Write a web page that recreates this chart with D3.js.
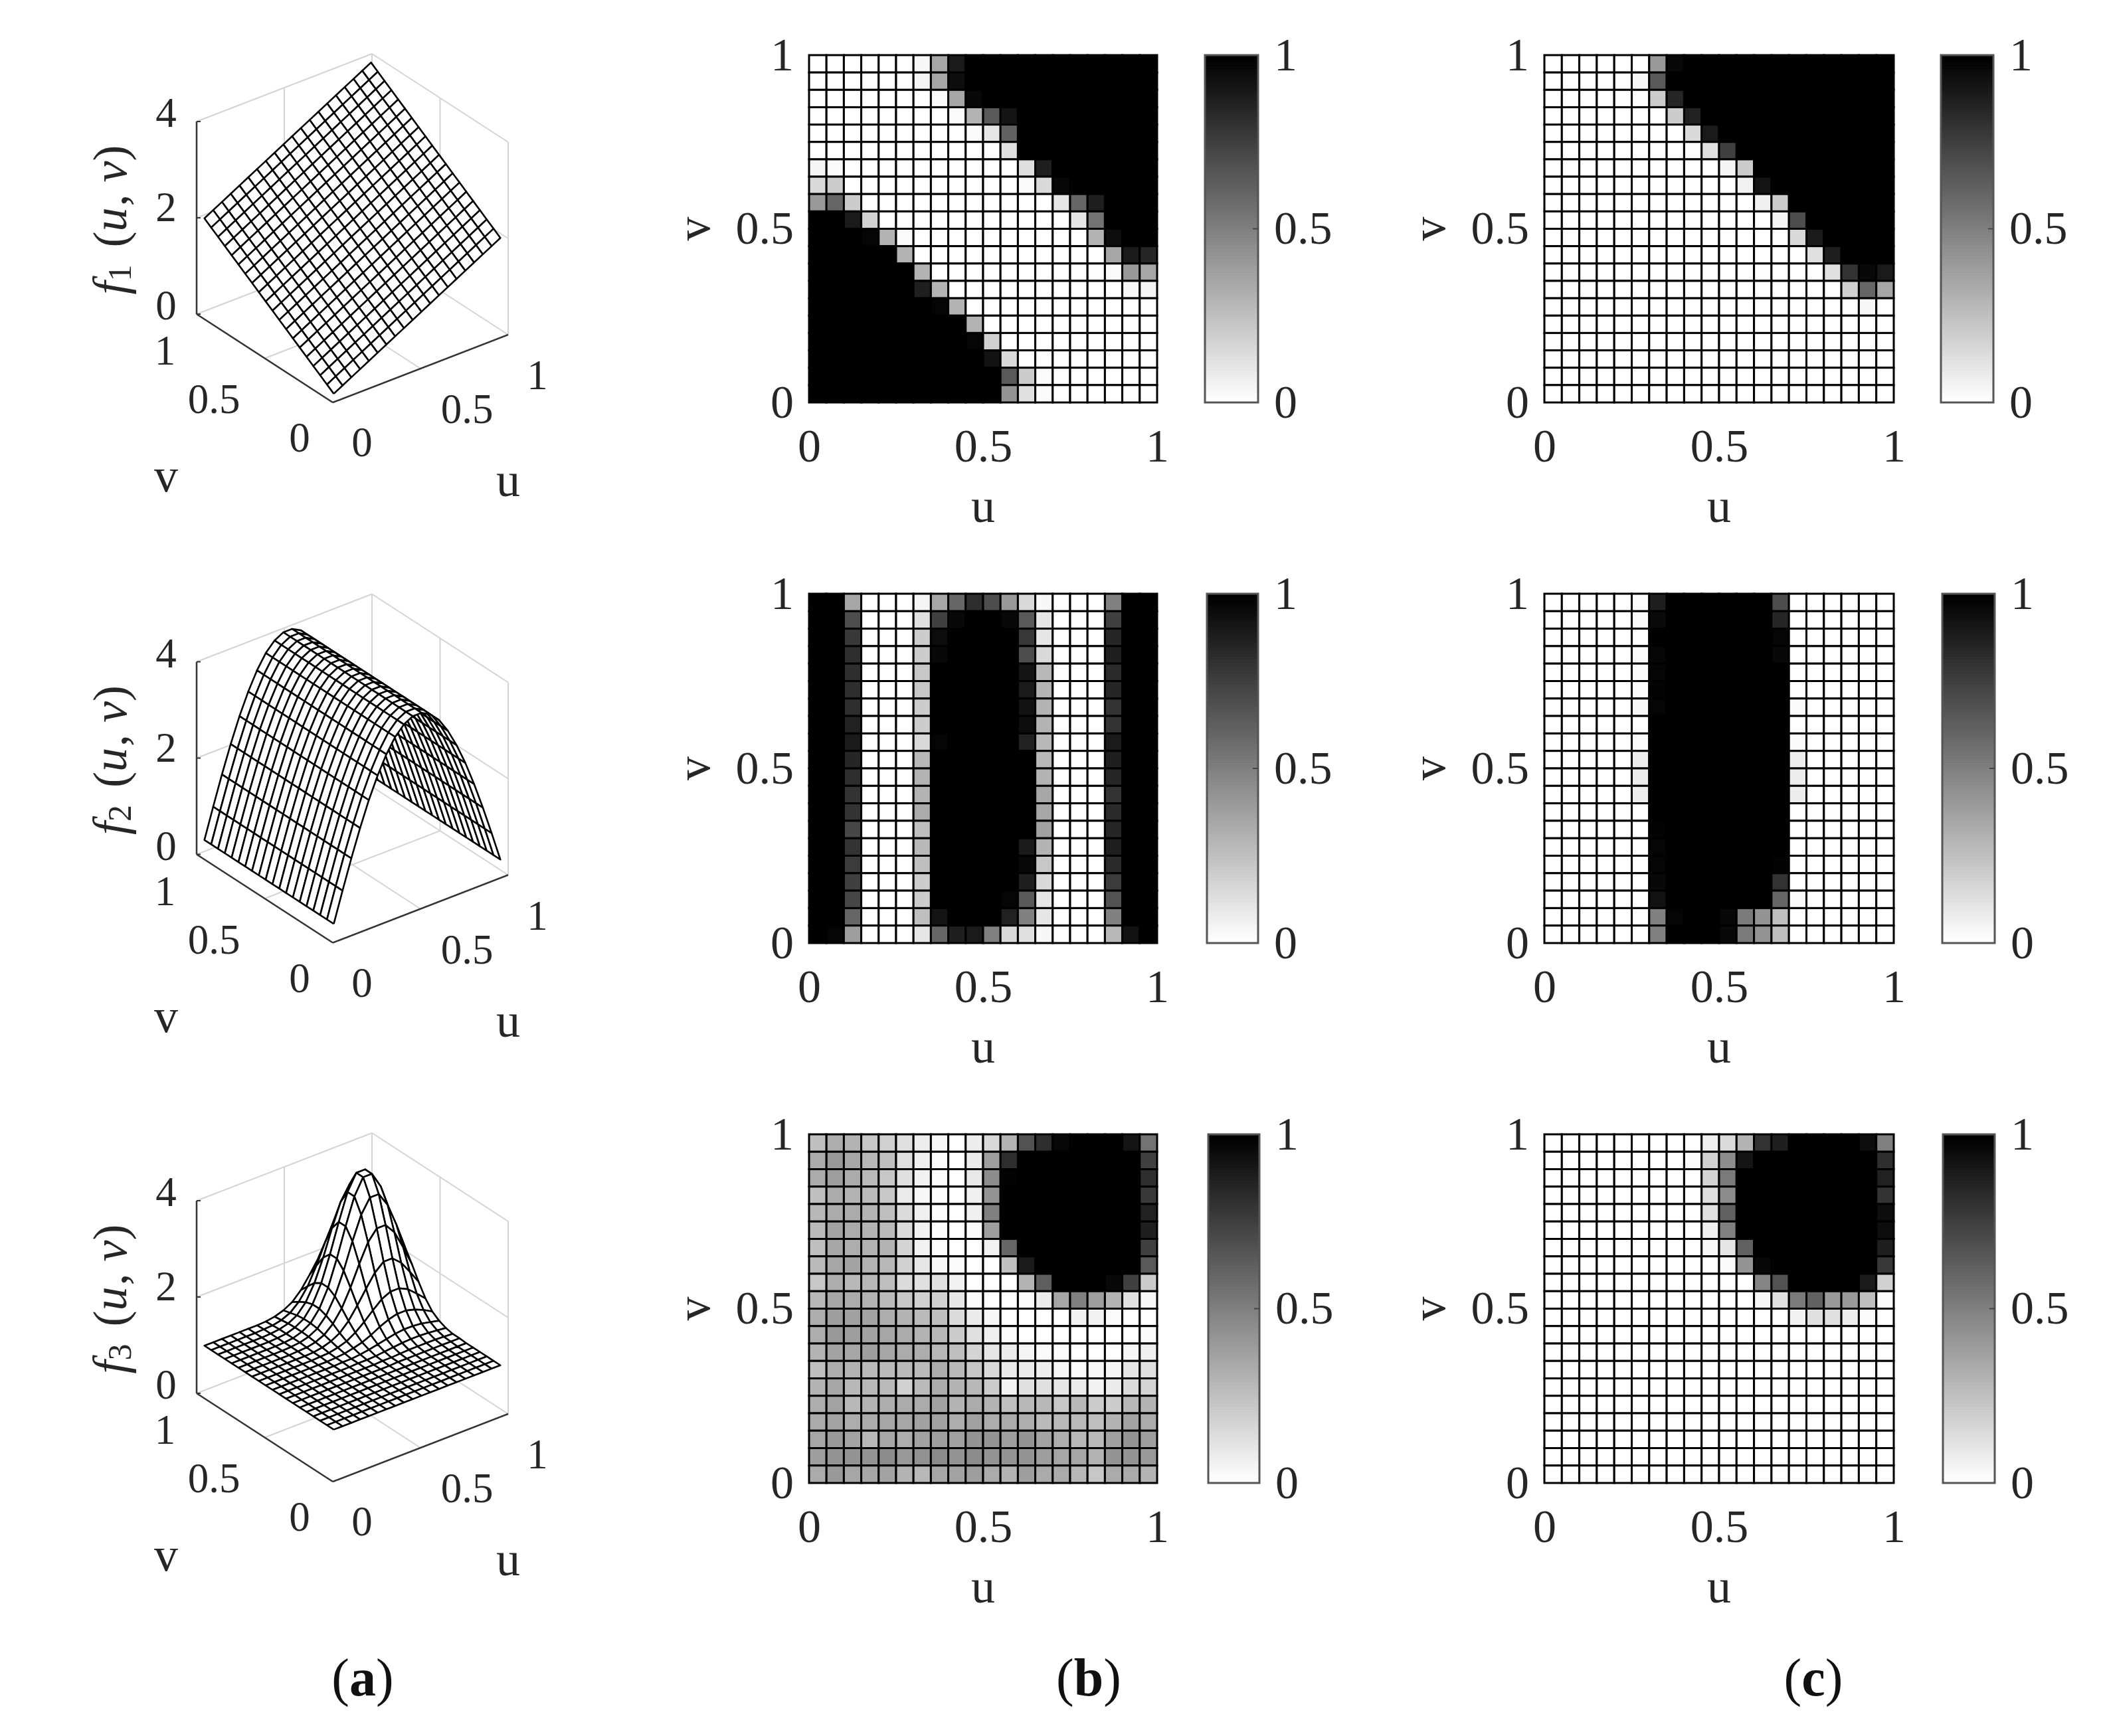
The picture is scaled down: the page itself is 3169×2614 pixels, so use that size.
<!DOCTYPE html>
<html><head><meta charset="utf-8">
<style>html,body{margin:0;padding:0;background:#fff}svg{display:block}</style>
<script src="https://cdn.jsdelivr.net/npm/d3@7"></script></head>
<body><svg id="c" width="3169" height="2614"></svg>
<script>
// ---------- heat-map values (top row = v near 1; left column = u near 0) ----------
const b1=[
[0,0,0,0,0,0,.03,.35,.9,1,1,1,1,1,1,1,1,1,1,1],
[0,0,0,0,0,0,.04,.35,.95,1,1,1,1,1,1,1,1,1,1,1],
[0,0,0,0,0,0,0,.02,.35,.97,1,1,1,1,1,1,1,1,1,1],
[0,0,0,0,0,0,0,0,.02,.3,.65,.92,1,1,1,1,1,1,1,1],
[0,0,0,0,0,0,0,0,0,.02,.1,.62,1,1,1,1,1,1,1,1],
[0,0,0,0,0,0,0,0,0,0,0,.12,1,1,1,1,1,1,1,1],
[.04,.02,0,0,0,0,0,0,0,0,0,0,.13,.88,1,1,1,1,1,1],
[.15,.2,0,0,0,0,0,0,0,0,0,0,.02,.15,.97,1,1,1,1,1],
[.4,.6,.2,0,0,0,0,0,0,0,0,0,0,0,.1,.6,.88,1,1,1],
[1,1,.9,.18,0,0,0,0,0,0,0,0,0,0,0,.1,.55,1,1,1],
[1,1,1,.98,.3,.02,0,0,0,0,0,0,0,0,0,0,.3,.95,1,1],
[1,1,1,1,1,.3,0,0,0,0,0,0,0,0,0,0,0,.35,.9,.85],
[1,1,1,1,1,1,.3,0,0,0,0,0,0,0,0,0,0,.02,.4,.35],
[1,1,1,1,1,1,.88,.3,0,0,0,0,0,0,0,0,0,0,.03,.04],
[1,1,1,1,1,1,1,.98,.3,0,0,0,0,0,0,0,0,0,0,0],
[1,1,1,1,1,1,1,1,1,.3,0,0,0,0,0,0,0,0,0,0],
[1,1,1,1,1,1,1,1,1,.98,.18,0,0,0,0,0,0,0,0,0],
[1,1,1,1,1,1,1,1,1,1,.93,.15,0,0,0,0,0,0,0,0],
[1,1,1,1,1,1,1,1,1,1,1,.65,.2,.02,0,0,0,0,0,0],
[1,1,1,1,1,1,1,1,1,1,1,.42,.12,.02,0,0,0,0,0,0]];
const c1=[
[0,0,0,0,0,0,.4,.97,1,1,1,1,1,1,1,1,1,1,1,1],
[0,0,0,0,0,.03,.65,1,1,1,1,1,1,1,1,1,1,1,1,1],
[0,0,0,0,0,0,.2,.85,1,1,1,1,1,1,1,1,1,1,1,1],
[0,0,0,0,0,0,0,.2,.87,1,1,1,1,1,1,1,1,1,1,1],
[0,0,0,0,0,0,0,0,.15,.9,1,1,1,1,1,1,1,1,1,1],
[0,0,0,0,0,0,0,0,0,.12,.75,1,1,1,1,1,1,1,1,1],
[0,0,0,0,0,0,0,0,0,0,.04,.2,1,1,1,1,1,1,1,1],
[0,0,0,0,0,0,0,0,0,0,0,.05,.92,1,1,1,1,1,1,1],
[0,0,0,0,0,0,0,0,0,0,0,0,.06,.2,1,1,1,1,1,1],
[0,0,0,0,0,0,0,0,0,0,0,0,0,.04,.7,1,1,1,1,1],
[0,0,0,0,0,0,0,0,0,0,0,0,0,0,.15,.9,1,1,1,1],
[0,0,0,0,0,0,0,0,0,0,0,0,0,0,0,.12,.88,1,1,1],
[0,0,0,0,0,0,0,0,0,0,0,0,0,0,0,0,.12,.8,.97,.9],
[0,0,0,0,0,0,0,0,0,0,0,0,0,0,0,0,0,.18,.6,.35],
[0,0,0,0,0,0,0,0,0,0,0,0,0,0,0,0,0,0,.03,0],
[0,0,0,0,0,0,0,0,0,0,0,0,0,0,0,0,0,0,0,0],
[0,0,0,0,0,0,0,0,0,0,0,0,0,0,0,0,0,0,0,0],
[0,0,0,0,0,0,0,0,0,0,0,0,0,0,0,0,0,0,0,0],
[0,0,0,0,0,0,0,0,0,0,0,0,0,0,0,0,0,0,0,0],
[0,0,0,0,0,0,0,0,0,0,0,0,0,0,0,0,0,0,0,0]];
const b2=[
[1,1,.35,0,0,0,.04,.35,.6,.82,.7,.4,.15,.03,0,0,0,.5,1,1],
[1,1,.7,0,0,0,.12,.75,.97,1,1,.97,.65,.1,0,0,0,.75,1,1],
[1,1,.78,0,0,0,.2,.95,1,1,1,1,.78,.1,0,0,0,.85,1,1],
[1,1,.82,0,0,0,.2,.97,1,1,1,1,.7,.15,0,0,0,.88,1,1],
[1,1,.82,0,0,0,.22,1,1,1,1,1,.92,.28,0,0,0,.83,1,1],
[1,1,.82,0,0,0,.22,1,1,1,1,1,.9,.3,0,0,0,.85,1,1],
[1,1,.82,0,0,0,.2,1,1,1,1,1,.93,.3,0,0,0,.8,1,1],
[1,1,.87,0,0,0,.2,1,1,1,1,1,.95,.3,0,0,0,.8,1,1],
[1,1,.9,0,0,0,.15,.98,1,1,1,1,.87,.28,0,0,0,.9,1,1],
[1,1,.85,0,0,0,.28,1,1,1,1,1,1,.28,0,0,0,.88,1,1],
[1,1,.82,0,0,0,.3,1,1,1,1,1,1,.3,0,0,0,.85,1,1],
[1,1,.8,0,0,0,.3,1,1,1,1,1,1,.35,0,0,0,.8,1,1],
[1,1,.8,0,0,0,.33,1,1,1,1,1,1,.35,0,0,0,.83,1,1],
[1,1,.72,0,0,0,.25,1,1,1,1,1,1,.37,0,0,0,.85,1,1],
[1,1,.8,0,0,0,.28,1,1,1,1,1,.9,.3,0,0,0,.88,1,1],
[1,1,.77,0,0,0,.25,1,1,1,1,1,.97,.22,0,0,0,.83,1,1],
[1,1,.75,0,0,0,.2,1,1,1,1,1,.88,.15,0,0,0,.77,1,1],
[1,1,.72,0,0,0,.2,1,1,1,1,.98,.65,.1,0,0,0,.68,1,1],
[1,1,.6,0,0,0,.25,.92,1,1,1,.87,.5,.1,0,0,0,.5,1,1],
[1,.98,.38,0,0,0,.1,.6,.88,.9,.5,.15,.12,.03,0,0,0,.28,.93,1]];
const c2=[
[0,0,0,0,0,.02,.88,1,1,1,1,1,1,.7,0,0,0,0,0,0],
[0,0,0,0,0,.02,.96,1,1,1,1,1,1,.85,0,0,0,0,0,0],
[0,0,0,0,0,0,1,1,1,1,1,1,1,.98,0,0,0,0,0,0],
[0,0,0,0,0,.02,.98,1,1,1,1,1,1,.97,0,0,0,0,0,0],
[0,0,0,0,0,.02,.98,1,1,1,1,1,1,1,0,0,0,0,0,0],
[0,0,0,0,0,.02,.99,1,1,1,1,1,1,1,0,0,0,0,0,0],
[0,0,0,0,0,.03,.98,1,1,1,1,1,1,1,.02,0,0,0,0,0],
[0,0,0,0,0,0,1,1,1,1,1,1,1,1,0,0,0,0,0,0],
[0,0,0,0,0,.02,1,1,1,1,1,1,1,1,.02,0,0,0,0,0],
[0,0,0,0,0,.07,1,1,1,1,1,1,1,1,.07,0,0,0,0,0],
[0,0,0,0,0,.07,1,1,1,1,1,1,1,1,.07,0,0,0,0,0],
[0,0,0,0,0,.07,1,1,1,1,1,1,1,1,.07,0,0,0,0,0],
[0,0,0,0,0,0,1,1,1,1,1,1,1,1,0,0,0,0,0,0],
[0,0,0,0,0,0,.99,1,1,1,1,1,1,1,0,0,0,0,0,0],
[0,0,0,0,0,0,.98,1,1,1,1,1,1,1,0,0,0,0,0,0],
[0,0,0,0,0,0,.98,1,1,1,1,1,1,.99,0,0,0,0,0,0],
[0,0,0,0,0,0,.97,1,1,1,1,1,1,.8,0,0,0,0,0,0],
[0,0,0,0,0,0,.93,1,1,1,1,1,1,.6,.02,0,0,0,0,0],
[0,0,0,0,0,0,.5,.98,1,1,.97,.52,.42,.25,0,0,0,0,0,0],
[0,0,0,0,0,0,.5,1,1,1,.97,.52,.42,.25,0,0,0,0,0,0]];
const b3=[
[.25,.32,.3,.22,.18,.12,.07,.03,0,.07,.15,.3,.68,.82,.97,1,1,1,.92,.55],
[.33,.4,.35,.28,.25,.13,.06,.02,0,.08,.38,.82,1,1,1,1,1,1,1,.75],
[.33,.38,.33,.27,.22,.12,.05,.01,0,.09,.45,.99,1,1,1,1,1,1,1,.82],
[.25,.33,.3,.27,.22,.08,.03,.01,0,.06,.42,1,1,1,1,1,1,1,1,.78],
[.28,.33,.33,.3,.25,.14,.06,.01,0,.06,.5,1,1,1,1,1,1,1,1,.87],
[.27,.36,.33,.3,.27,.14,.05,.01,0,.02,.38,1,1,1,1,1,1,1,1,.88],
[.25,.35,.32,.3,.3,.17,.05,.02,0,0,.05,.6,1,1,1,1,1,1,1,.75],
[.27,.35,.36,.3,.28,.18,.1,.03,.02,0,0,.25,.9,1,1,1,1,1,1,.65],
[.22,.32,.28,.28,.25,.14,.12,.12,.05,0,0,0,.3,.63,1,1,1,.97,.75,.2],
[.28,.35,.33,.3,.27,.22,.18,.18,.1,.02,0,0,.02,.08,.35,.5,.38,.3,.12,.03],
[.32,.38,.37,.36,.32,.3,.27,.25,.14,.08,.03,0,0,0,0,.05,.05,.02,0,0],
[.32,.4,.38,.36,.35,.33,.3,.28,.2,.12,.06,.02,0,0,0,0,0,0,0,.02],
[.3,.36,.35,.38,.35,.33,.32,.28,.25,.17,.1,.08,.04,.02,.01,0,0,0,.03,.06],
[.25,.32,.3,.27,.27,.27,.27,.33,.28,.22,.15,.08,.08,.07,.03,.02,.03,.04,.1,.12],
[.3,.35,.28,.28,.27,.18,.27,.33,.3,.28,.2,.05,.12,.12,.1,.08,.05,.08,.14,.17],
[.32,.36,.28,.3,.32,.33,.33,.37,.3,.33,.3,.25,.28,.28,.22,.28,.2,.2,.28,.3],
[.33,.36,.32,.33,.35,.35,.37,.37,.32,.37,.32,.33,.32,.27,.27,.27,.25,.3,.36,.33],
[.35,.4,.36,.28,.35,.32,.37,.38,.37,.42,.42,.38,.42,.36,.32,.28,.27,.37,.42,.38],
[.38,.42,.42,.42,.45,.4,.43,.46,.42,.45,.42,.42,.42,.38,.35,.35,.3,.42,.42,.4],
[.33,.4,.35,.35,.36,.3,.28,.35,.36,.38,.33,.3,.38,.33,.33,.28,.22,.33,.33,.3]];
const c3=[
[0,0,0,0,0,0,0,0,0,.06,.14,.3,.8,.88,1,1,1,1,.95,.5],
[0,0,0,0,0,0,0,0,.02,.18,.45,.92,1,1,1,1,1,1,1,.82],
[0,0,0,0,0,0,0,0,0,.17,.52,1,1,1,1,1,1,1,1,.87],
[0,0,0,0,0,0,0,0,0,.13,.45,1,1,1,1,1,1,1,1,.8],
[0,0,0,0,0,0,0,0,0,.12,.62,1,1,1,1,1,1,1,1,.95],
[0,0,0,0,0,0,0,0,0,.06,.5,1,1,1,1,1,1,1,1,.95],
[0,0,0,0,0,0,0,0,0,.03,.1,.62,1,1,1,1,1,1,1,.88],
[0,0,0,0,0,0,0,0,0,0,.02,.42,.97,1,1,1,1,1,1,.78],
[0,0,0,0,0,0,0,0,0,0,0,0,.48,.68,1,1,1,1,.9,.18],
[0,0,0,0,0,0,0,0,0,0,0,0,.03,.12,.52,.62,.4,.4,.25,.02],
[0,0,0,0,0,0,0,0,0,0,0,0,0,0,.05,.12,.12,.07,.02,0],
[0,0,0,0,0,0,0,0,0,0,0,0,0,0,0,0,0,0,0,0],
[0,0,0,0,0,0,0,0,0,0,0,0,0,0,0,0,0,0,0,0],
[0,0,0,0,0,0,0,0,0,0,0,0,0,0,0,0,0,0,0,0],
[0,0,0,0,0,0,0,0,0,0,0,0,0,0,0,0,0,0,0,0],
[0,0,0,0,0,0,0,0,0,0,0,0,0,0,0,0,0,0,0,0],
[0,0,0,0,0,0,0,0,0,0,0,0,0,0,0,0,0,0,0,0],
[0,0,0,0,0,0,0,0,0,0,0,0,0,0,0,0,0,0,0,0],
[0,0,0,0,0,0,0,0,0,0,0,0,0,0,0,0,0,0,0,0],
[0,0,0,0,0,0,0,0,0,0,0,0,0,0,0,0,0,0,0,0]];

// ---------- surface heights (row = v index, column = u index) ----------
const gridUV=[.025,.075,.125,.175,.225,.275,.325,.375,.425,.475,.525,.575,.625,.675,.725,.775,.825,.875,.925,.975];
const f1Z=[
[.1,.2,.3,.4,.5,.6,.7,.8,.9,1,1.1,1.2,1.3,1.4,1.5,1.6,1.7,1.8,1.9,2],
[.2,.3,.4,.5,.6,.7,.8,.9,1,1.1,1.2,1.3,1.4,1.5,1.6,1.7,1.8,1.9,2,2.1],
[.3,.4,.5,.6,.7,.8,.9,1,1.1,1.2,1.3,1.4,1.5,1.6,1.7,1.8,1.9,2,2.1,2.2],
[.4,.5,.6,.7,.8,.9,1,1.1,1.2,1.3,1.4,1.5,1.6,1.7,1.8,1.9,2,2.1,2.2,2.3],
[.5,.6,.7,.8,.9,1,1.1,1.2,1.3,1.4,1.5,1.6,1.7,1.8,1.9,2,2.1,2.2,2.3,2.4],
[.6,.7,.8,.9,1,1.1,1.2,1.3,1.4,1.5,1.6,1.7,1.8,1.9,2,2.1,2.2,2.3,2.4,2.5],
[.7,.8,.9,1,1.1,1.2,1.3,1.4,1.5,1.6,1.7,1.8,1.9,2,2.1,2.2,2.3,2.4,2.5,2.6],
[.8,.9,1,1.1,1.2,1.3,1.4,1.5,1.6,1.7,1.8,1.9,2,2.1,2.2,2.3,2.4,2.5,2.6,2.7],
[.9,1,1.1,1.2,1.3,1.4,1.5,1.6,1.7,1.8,1.9,2,2.1,2.2,2.3,2.4,2.5,2.6,2.7,2.8],
[1,1.1,1.2,1.3,1.4,1.5,1.6,1.7,1.8,1.9,2,2.1,2.2,2.3,2.4,2.5,2.6,2.7,2.8,2.9],
[1.1,1.2,1.3,1.4,1.5,1.6,1.7,1.8,1.9,2,2.1,2.2,2.3,2.4,2.5,2.6,2.7,2.8,2.9,3],
[1.2,1.3,1.4,1.5,1.6,1.7,1.8,1.9,2,2.1,2.2,2.3,2.4,2.5,2.6,2.7,2.8,2.9,3,3.1],
[1.3,1.4,1.5,1.6,1.7,1.8,1.9,2,2.1,2.2,2.3,2.4,2.5,2.6,2.7,2.8,2.9,3,3.1,3.2],
[1.4,1.5,1.6,1.7,1.8,1.9,2,2.1,2.2,2.3,2.4,2.5,2.6,2.7,2.8,2.9,3,3.1,3.2,3.3],
[1.5,1.6,1.7,1.8,1.9,2,2.1,2.2,2.3,2.4,2.5,2.6,2.7,2.8,2.9,3,3.1,3.2,3.3,3.4],
[1.6,1.7,1.8,1.9,2,2.1,2.2,2.3,2.4,2.5,2.6,2.7,2.8,2.9,3,3.1,3.2,3.3,3.4,3.5],
[1.7,1.8,1.9,2,2.1,2.2,2.3,2.4,2.5,2.6,2.7,2.8,2.9,3,3.1,3.2,3.3,3.4,3.5,3.6],
[1.8,1.9,2,2.1,2.2,2.3,2.4,2.5,2.6,2.7,2.8,2.9,3,3.1,3.2,3.3,3.4,3.5,3.6,3.7],
[1.9,2,2.1,2.2,2.3,2.4,2.5,2.6,2.7,2.8,2.9,3,3.1,3.2,3.3,3.4,3.5,3.6,3.7,3.8],
[2,2.1,2.2,2.3,2.4,2.5,2.6,2.7,2.8,2.9,3,3.1,3.2,3.3,3.4,3.5,3.6,3.7,3.8,3.9]];
// f2 has the same cross-section along every v
const f2Profile=[.31,.93,1.53,2.09,2.6,3.04,3.41,3.7,3.89,3.99,3.99,3.89,3.7,3.41,3.04,2.6,2.09,1.53,.93,.31];
const f2Z=gridUV.map(()=>f2Profile);
const f3Flat=[1,1,1,1,1,1,1,1,1,1,1,1,1,1,1,1,1,1,1,1];
const f3Z=[f3Flat,f3Flat,f3Flat,f3Flat,f3Flat,f3Flat,
[1,1,1,1,1,1,1,1,1,1,1,1,1.01,1.01,1.01,1.01,1.01,1.01,1.01,1.01],
[1,1,1,1,1,1,1,1,1,1,1,1.01,1.01,1.02,1.03,1.03,1.03,1.03,1.02,1.01],
[1,1,1,1,1,1,1,1,1,1.01,1.01,1.02,1.04,1.06,1.08,1.09,1.09,1.08,1.06,1.04],
[1,1,1,1,1,1,1,1,1.01,1.01,1.03,1.06,1.1,1.14,1.18,1.2,1.2,1.18,1.14,1.1],
[1,1,1,1,1,1,1,1,1.01,1.03,1.07,1.12,1.2,1.3,1.38,1.43,1.43,1.38,1.3,1.2],
[1,1,1,1,1,1,1,1.01,1.02,1.06,1.12,1.23,1.38,1.55,1.71,1.8,1.8,1.71,1.55,1.38],
[1,1,1,1,1,1,1,1.01,1.04,1.1,1.2,1.38,1.63,1.91,2.17,2.33,2.33,2.17,1.91,1.63],
[1,1,1,1,1,1,1.01,1.02,1.06,1.14,1.3,1.55,1.91,2.33,2.71,2.93,2.93,2.71,2.33,1.91],
[1,1,1,1,1,1,1.01,1.03,1.08,1.18,1.38,1.71,2.17,2.71,3.19,3.48,3.48,3.19,2.71,2.17],
[1,1,1,1,1,1,1.01,1.03,1.09,1.2,1.43,1.8,2.33,2.93,3.48,3.81,3.81,3.48,2.93,2.33],
[1,1,1,1,1,1,1.01,1.03,1.09,1.2,1.43,1.8,2.33,2.93,3.48,3.81,3.81,3.48,2.93,2.33],
[1,1,1,1,1,1,1.01,1.03,1.08,1.18,1.38,1.71,2.17,2.71,3.19,3.48,3.48,3.19,2.71,2.17],
[1,1,1,1,1,1,1.01,1.02,1.06,1.14,1.3,1.55,1.91,2.33,2.71,2.93,2.93,2.71,2.33,1.91],
[1,1,1,1,1,1,1,1.01,1.04,1.1,1.2,1.38,1.63,1.91,2.17,2.33,2.33,2.17,1.91,1.63]];

const unitTicks=[0,.5,1];
const zTicks=[0,2,4];
const surfaceNames=["1","2","3"];
const partLabels=["a","b","c"];

// ---------- layout ----------
const FONT='"Liberation Serif",serif', INK="#262626";
const svg=d3.select("#c");
svg.append("rect").attr("width",3169).attr("height",2614).attr("fill","#fff");
const gray=d3.scaleLinear().domain([0,1]).range(["#ffffff","#000000"]);
const fmt=d3.format("~g");

function heat(m,L,R,T,B,cL,cR){
  const g=svg.append("g");
  const cols=d3.scaleBand().domain(d3.range(20)).range([L,R]);
  const rows=d3.scaleBand().domain(d3.range(20)).range([T,B]);
  const flat=m.flatMap((r,j)=>r.map((v,i)=>({i,j,v})));
  g.selectAll("rect.c").data(flat).join("rect").attr("class","c")
    .attr("x",d=>cols(d.i)).attr("y",d=>rows(d.j))
    .attr("width",cols.bandwidth()).attr("height",rows.bandwidth())
    .attr("fill",d=>gray(d.v)).attr("stroke","#000").attr("stroke-width",3);
  const xS=d3.scaleLinear().domain([0,1]).range([L,R]);
  const yS=d3.scaleLinear().domain([0,1]).range([B,T]);
  const style=s=>{s.select(".domain").remove();s.selectAll("text").attr("font-family",FONT).attr("font-size",70).attr("fill",INK);};
  g.append("g").attr("transform",`translate(0,${B})`)
    .call(d3.axisBottom(xS).tickValues(unitTicks).tickSize(0).tickPadding(39).tickFormat(fmt)).call(style);
  g.append("g").attr("transform",`translate(${L},0)`)
    .call(d3.axisLeft(yS).tickValues(unitTicks).tickSize(0).tickPadding(23).tickFormat(fmt)).call(style);
  g.append("text").text("u").attr("x",(L+R)/2).attr("y",B+180).attr("text-anchor","middle")
    .attr("font-family",FONT).attr("font-size",72).attr("fill",INK);
  g.append("text").text("v").attr("transform",`translate(${L-150},${(T+B)/2}) rotate(-90)`).attr("text-anchor","middle")
    .attr("font-family",FONT).attr("font-size",72).attr("fill",INK);
  // colour bar
  const cb=svg.append("g");
  const stepScale=d3.scaleBand().domain(d3.range(128)).range([B,T]);
  cb.selectAll("rect").data(d3.range(128)).join("rect")
    .attr("x",cL).attr("width",cR-cL).attr("y",d=>stepScale(d)-.5)
    .attr("height",stepScale.bandwidth()+1).attr("fill",d=>gray(d/127));
  cb.append("rect").attr("x",cL).attr("y",T).attr("width",cR-cL).attr("height",B-T)
    .attr("fill","none").attr("stroke","#555").attr("stroke-width",3);
  cb.append("g").attr("transform",`translate(${cR},0)`)
    .call(d3.axisRight(yS).tickValues(unitTicks).tickSize(0).tickPadding(24).tickFormat(fmt)).call(style);
  cb.append("line").attr("x1",cR-8).attr("x2",cR).attr("y1",yS(.5)).attr("y2",yS(.5)).attr("stroke","#444").attr("stroke-width",2);
}

function surface(Z,Ox,Oy,name){
  const g=svg.append("g");
  const uX=d3.scaleLinear().domain([0,1]).range([0,264]), uY=d3.scaleLinear().domain([0,1]).range([0,-102]);
  const vX=d3.scaleLinear().domain([0,1]).range([0,-205]), vY=d3.scaleLinear().domain([0,1]).range([0,-133]);
  const zY=d3.scaleLinear().domain([0,4]).range([0,-290]);
  const P=(u,v,z)=>[Ox+uX(u)+vX(v),Oy+uY(u)+vY(v)+zY(z)];
  const seg=d3.line();
  const grid=[
    [[0,1,0],[1,1,0]],[[1,1,0],[1,0,0]],[[1,1,0],[1,1,4]],[[1,0,0],[1,0,4]],
    [[.5,0,0],[.5,1,0]],[[0,.5,0],[1,.5,0]],
    [[.5,1,0],[.5,1,4]],[[1,.5,0],[1,.5,4]],
    [[0,1,2],[1,1,2]],[[1,1,2],[1,0,2]],[[0,1,4],[1,1,4]],[[1,1,4],[1,0,4]]];
  g.selectAll("path.g").data(grid).join("path").attr("class","g")
    .attr("d",d=>seg(d.map(p=>P(...p)))).attr("fill","none").attr("stroke","#d4d4d4").attr("stroke-width",2);
  const axes=[[[0,1,0],[0,0,0]],[[0,0,0],[1,0,0]],[[0,1,0],[0,1,4]]];
  g.selectAll("path.a").data(axes).join("path").attr("class","a")
    .attr("d",d=>seg(d.map(p=>P(...p)))).attr("fill","none").attr("stroke","#333").attr("stroke-width",2.5);
  // mesh: painted far to near
  const cells=[];
  d3.range(19).forEach(j=>d3.range(19).forEach(i=>cells.push({i,j})));
  cells.sort((a,b)=>(b.i+b.j)-(a.i+a.j));
  g.selectAll("path.m").data(cells).join("path").attr("class","m")
    .attr("d",({i,j})=>seg([[i,j],[i+1,j],[i+1,j+1],[i,j+1],[i,j]].map(([a,b])=>P(gridUV[a],gridUV[b],Z[b][a]))))
    .attr("fill","#fff").attr("stroke","#000").attr("stroke-width",2.6).attr("stroke-linejoin","round");
  // tick labels
  const lab=(t,x,y)=>g.append("text").text(t).attr("x",x).attr("y",y).attr("text-anchor","middle").attr("dominant-baseline","central")
    .attr("font-family",FONT).attr("font-size",63).attr("fill",INK);
  zTicks.forEach(z=>{const p=P(0,1,z); lab(fmt(z),p[0]-46,p[1]-(z===2?16:13));
    g.append("line").attr("x1",p[0]).attr("x2",p[0]+6).attr("y1",p[1]).attr("y2",p[1]).attr("stroke","#333").attr("stroke-width",2);});
  const vOff=[[-50,53],[-76.5,61.5],[-47.5,55]], uOff=[[44,60],[70,61],[44,61]];
  unitTicks.forEach((t,k)=>{const p=P(0,t,0); lab(fmt(t),p[0]+vOff[k][0],p[1]+vOff[k][1]);
    const q=P(t,0,0); lab(fmt(t),q[0]+uOff[k][0],q[1]+uOff[k][1]);});
  const ax=(t,x,y)=>g.append("text").text(t).attr("x",x).attr("y",y).attr("text-anchor","middle").attr("dominant-baseline","central")
    .attr("font-family",FONT).attr("font-size",72).attr("fill",INK);
  ax("v",Ox-251,Oy+110); ax("u",Ox+264,Oy+117);
  // z label
  const t=g.append("text").attr("transform",`translate(${Ox-335},${Oy-275}) rotate(-90)`).attr("text-anchor","middle")
    .attr("dominant-baseline","central").attr("font-family",FONT).attr("font-size",72).attr("fill",INK);
  t.append("tspan").attr("font-style","italic").text("f");
  t.append("tspan").attr("font-size",50).attr("dy",14).text(name);
  t.append("tspan").attr("dy",-14).attr("dx",26).text("(");
  t.append("tspan").attr("font-style","italic").text("u");
  t.append("tspan").attr("dx",2).text(",");
  t.append("tspan").attr("dx",18).attr("font-style","italic").text("v");
  t.append("tspan").text(")");
}

heat(b1,1218,1742,83,606,1814,1894);
heat(c1,2325,2851,83,606,2922,3001);
heat(b2,1218,1742,894,1420,1817,1894);
heat(c2,2325,2851,894,1420,2924,3003);
heat(b3,1218,1742,1708,2233,1819,1896);
heat(c3,2325,2851,1708,2233,2925,3003);
surface(f1Z,501,606,surfaceNames[0]);
surface(f2Z,501,1419.5,surfaceNames[1]);
surface(f3Z,501,2231,surfaceNames[2]);

[546,1639,2730].forEach((x,k)=>{
  const t=svg.append("text").attr("x",x).attr("y",2553).attr("text-anchor","middle")
    .attr("font-family",FONT).attr("font-size",80).attr("fill","#111");
  t.append("tspan").text("(");
  t.append("tspan").attr("font-weight","bold").text(partLabels[k]);
  t.append("tspan").text(")");
});
</script></body></html>
